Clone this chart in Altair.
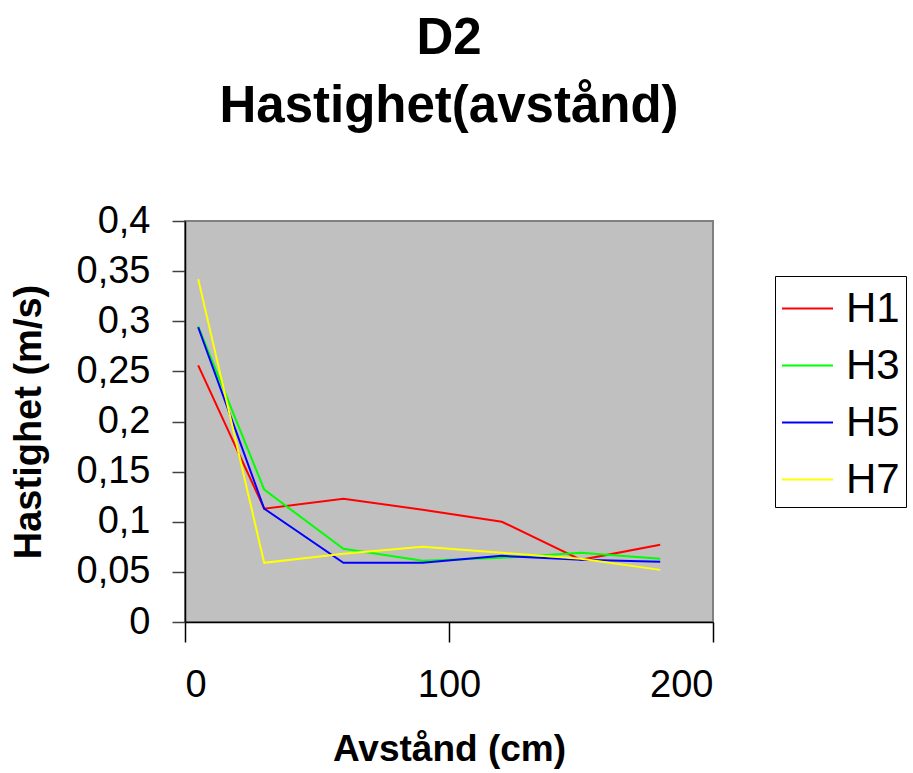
import altair as alt
import pandas as pd

x_cm = [5, 30, 60, 90, 120, 150, 180]
series = ["H1", "H3", "H5", "H7"]
h1 = [0.256, 0.113, 0.123, 0.112, 0.100, 0.062, 0.077]
h3 = [0.295, 0.132, 0.073, 0.061, 0.064, 0.069, 0.063]
h5 = [0.294, 0.113, 0.059, 0.059, 0.066, 0.062, 0.060]
h7 = [0.342, 0.059, 0.068, 0.075, 0.069, 0.063, 0.052]
colors = ["#FF0000", "#00FF00", "#0000FF", "#FFFF00"]
y_ticks = [0, 0.05, 0.1, 0.15, 0.2, 0.25, 0.3, 0.35, 0.4]
x_ticks = [0, 100, 200]

rows = []
for name, vals in zip(series, [h1, h3, h5, h7]):
    for xv, yv in zip(x_cm, vals):
        rows.append({"serie": name, "x": xv, "y": yv})
df = pd.DataFrame(rows)

FONT = "Liberation Sans"

chart = alt.Chart(df).mark_line(strokeWidth=2).encode(
    x=alt.X("x:Q", scale=alt.Scale(domain=[0, 200], nice=False),
            axis=alt.Axis(values=x_ticks, title="Avstånd (cm)", grid=False,
                          tickSize=20, labelPadding=24, labelFontSize=38,
                          titleFontSize=37, titlePadding=27,
                          domainColor="black", tickColor="black",
                          domainWidth=1.5, tickWidth=1.5,
                          labelColor="black", titleColor="black",
                          labelFont=FONT, titleFont=FONT, titleFontWeight="bold")),
    y=alt.Y("y:Q", scale=alt.Scale(domain=[0, 0.4], nice=False),
            axis=alt.Axis(values=y_ticks, title="Hastighet (m/s)", grid=False,
                          labelExpr="replace(format(datum.value, '~g'), '.', ',')",
                          tickSize=13, labelPadding=22, labelFontSize=38,
                          titleFontSize=38, titlePadding=28,
                          domainColor="black", tickColor="#404040",
                          domainWidth=1.5, tickWidth=1.5,
                          labelColor="black", titleColor="black",
                          labelFont=FONT, titleFont=FONT, titleFontWeight="bold")),
    color=alt.Color("serie:N",
                    scale=alt.Scale(domain=series, range=colors),
                    sort=series,
                    legend=alt.Legend(title=None, orient="none", legendX=590, legendY=55,
                                      symbolType="stroke", symbolSize=2601,
                                      symbolStrokeWidth=2, labelFontSize=42,
                                      labelFont=FONT, labelColor="black",
                                      labelOffset=12, rowPadding=9, padding=6,
                                      strokeColor="black", fillColor="white")),
).properties(
    width=528,
    height=401,
    title=alt.TitleParams(text=["D2", "Hastighet(avstånd)"], fontSize=51,
                          font=FONT, fontWeight="bold", color="black",
                          lineHeight=68, anchor="middle", offset=69),
    autosize=alt.AutoSizeParams(type="none"),
    padding={"left": 185, "top": 221, "right": 200, "bottom": 151},
).configure(
    background="white"
).configure_view(
    fill="#C0C0C0", stroke="#808080", strokeWidth=2
)

chart.save("out.html", embed_options={"renderer": "svg", "actions": False})
